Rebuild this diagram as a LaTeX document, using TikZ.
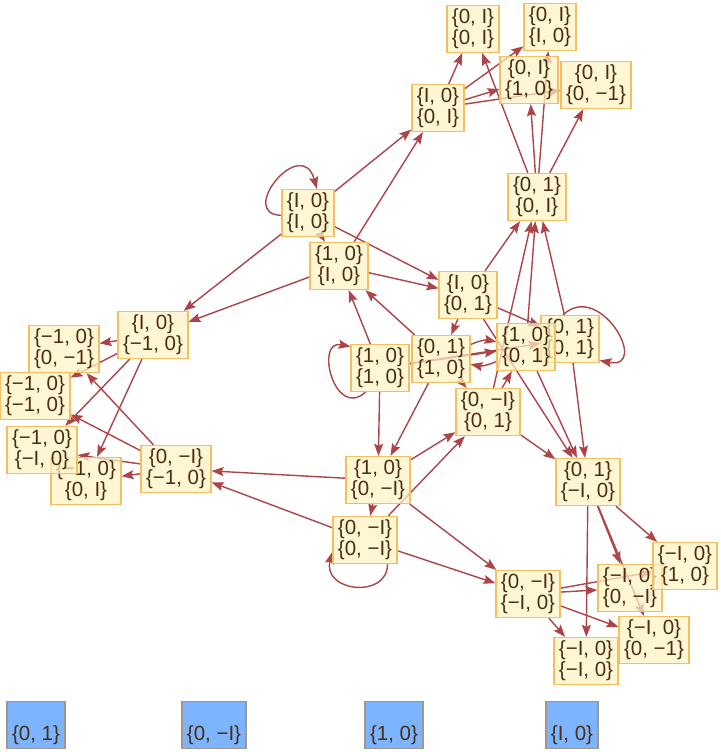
\documentclass[tikz,border=0pt]{standalone}
\usepackage{fontspec}
\setmainfont{Liberation Sans}
\usetikzlibrary{arrows.meta}
\definecolor{edgecol}{RGB}{172,68,72}
\definecolor{boxfill}{RGB}{255,242,196}
\definecolor{boxdraw}{RGB}{244,190,99}
\definecolor{txtcol}{RGB}{75,45,15}
\definecolor{bluefill}{RGB}{125,180,255}
\definecolor{bluedraw}{RGB}{160,150,140}
\pgfdeclarelayer{edgelayer}
\pgfsetlayers{edgelayer,main}
\newcommand\twol[2]{\{#1\}\\\{#2\}}
\begin{document}
\begin{tikzpicture}[x=1pt,y=-1pt,
  st/.style={draw=boxdraw, line width=1.2pt, fill=boxfill, fill opacity=0.72, text opacity=1,
    text=txtcol, align=center, inner xsep=5pt, inner ysep=3.5pt, font=\fontsize{20.5}{21}\selectfont},
  gen/.style={draw=bluedraw, line width=1.2pt, fill=bluefill, text=txtcol, align=center,
    inner xsep=5pt, inner ysep=3.5pt, font=\fontsize{20.5}{21}\selectfont},
  ed/.style={draw=edgecol, line width=1.4pt, -{Stealth[length=12pt,width=9pt,inset=2pt]}}]
\useasboundingbox (0,0) rectangle (720,752);
% vertices
\node[st] (A) at (473,29) {\twol{0, I}{0, I}};
\node[st] (B) at (550,27) {\twol{0, I}{I, 0}};
\node[st] (C) at (529,80) {\twol{0, I}{1, 0}};
\node[st] (D) at (596,85) {\twol{0, I}{0, −1}};
\node[st] (E) at (438,108) {\twol{I, 0}{0, I}};
\node[st] (F) at (537,197) {\twol{0, 1}{0, I}};
\node[st] (G) at (308,213) {\twol{I, 0}{I, 0}};
\node[st] (H) at (339,266) {\twol{1, 0}{I, 0}};
\node[st] (J) at (468,295) {\twol{I, 0}{0, 1}};
\node[st] (K) at (153,335) {\twol{I, 0}{−1, 0}};
\node[st] (L) at (64,349) {\twol{−1, 0}{0, −1}};
\node[st] (M) at (35,396) {\twol{−1, 0}{−1, 0}};
\node[st] (N) at (441,359) {\twol{0, 1}{1, 0}};
\node[st] (O) at (380,368) {\twol{1, 0}{1, 0}};
\node[st] (Q) at (570,339) {\twol{0, 1}{0, 1}};
\node[st] (P) at (526,347) {\twol{1, 0}{0, 1}};
\node[st] (R) at (488,412) {\twol{0, −I}{0, 1}};
\node[st] (T) at (86,481) {\twol{−1, 0}{0, I}};
\node[st] (S) at (42,450) {\twol{−1, 0}{−I, 0}};
\node[st] (U) at (176,469) {\twol{0, −I}{−1, 0}};
\node[st] (V) at (378,480) {\twol{1, 0}{0, −I}};
\node[st] (W) at (365,540) {\twol{0, −I}{0, −I}};
\node[st] (X) at (588,482) {\twol{0, 1}{−I, 0}};
\node[st] (Z) at (630,588) {\twol{−I, 0}{0, −I}};
\node[st] (Y) at (685,566) {\twol{−I, 0}{1, 0}};
\node[st] (AA) at (528,594) {\twol{0, −I}{−I, 0}};
\node[st] (AB) at (654,640) {\twol{−I, 0}{0, −1}};
\node[st] (AC) at (586,661) {\twol{−I, 0}{−I, 0}};
% generators
\node[gen] (g1) at (36,725) {\vphantom{\{}\\\{0, 1\}};
\node[gen] (g2) at (214,725) {\vphantom{\{}\\\{0, −I\}};
\node[gen] (g3) at (394,725) {\vphantom{\{}\\\{1, 0\}};
\node[gen] (g4) at (572,725) {\vphantom{\{}\\\{I, 0\}};
% edges
\begin{pgfonlayer}{edgelayer}
\draw[ed] (E) -- (A);
\draw[ed] (E) -- (B);
\draw[ed] (E) -- (C);
\draw[ed] (E) -- (D);
\draw[ed] (F) -- (A);
\draw[ed] (F) -- (B);
\draw[ed] (F) -- (C);
\draw[ed] (F) -- (D);
\draw[ed] (G) -- (E);
\draw[ed] (G) -- (H);
\draw[ed] (G) -- (J);
\draw[ed] (G) -- (K);
\draw[ed] (G.185) .. controls +(-45,-1) and +(-15,-55) .. (G.70);
\draw[ed] (H) -- (E);
\draw[ed] (H) -- (K);
\draw[ed] (H) -- (J);
\draw[ed] (J) -- (F);
\draw[ed] (J) -- (N);
\draw[ed] (J) -- (Q);
\draw[ed] (J) -- (X);
\draw[ed] (N) -- (H);
\draw[ed] (N) -- (V);
\draw[ed] (N) to[bend left=18] (P);
\draw[ed] (P) to[bend left=18] (N);
\draw[ed] (N) -- (R);
\draw[ed] (O) -- (H);
\draw[ed] (O) -- (V);
\draw[ed] (O) -- (P);
\draw[ed] (O) -- (Q);
\draw[ed] (O.239) .. controls +(-31,28) and +(-36,-7) .. (O.144);
\draw[ed] (P) -- (F);
\draw[ed] (P) -- (X);
\draw[ed] (Q) -- (F);
\draw[ed] (Q) -- (X);
\draw[ed] (Q.106) .. controls +(37,-35) and +(51,10) .. (Q.324);
\draw[ed] (R) -- (F);
\draw[ed] (R) -- (P);
\draw[ed] (R) -- (X);
\draw[ed] (K) -- (L);
\draw[ed] (K) -- (M);
\draw[ed] (K) -- (S);
\draw[ed] (K) -- (T);
\draw[ed] (U) -- (L);
\draw[ed] (U) -- (M);
\draw[ed] (U) -- (S);
\draw[ed] (U) -- (T);
\draw[ed] (V) -- (U);
\draw[ed] (V) -- (W);
\draw[ed] (V) -- (R);
\draw[ed] (V) -- (AA);
\draw[ed] (W) -- (U);
\draw[ed] (W) -- (R);
\draw[ed] (W) -- (AA);
\draw[ed] (W.313) .. controls +(0,35) and +(-10,40) .. (W.200);
\draw[ed] (X) -- (Y);
\draw[ed] (X) -- (Z);
\draw[ed] (X) -- (AB);
\draw[ed] (X) -- (AC);
\draw[ed] (AA) -- (Z);
\draw[ed] (AA) -- (Y);
\draw[ed] (AA) -- (AB);
\draw[ed] (AA) -- (AC);
\end{pgfonlayer}
\end{tikzpicture}
\end{document}
